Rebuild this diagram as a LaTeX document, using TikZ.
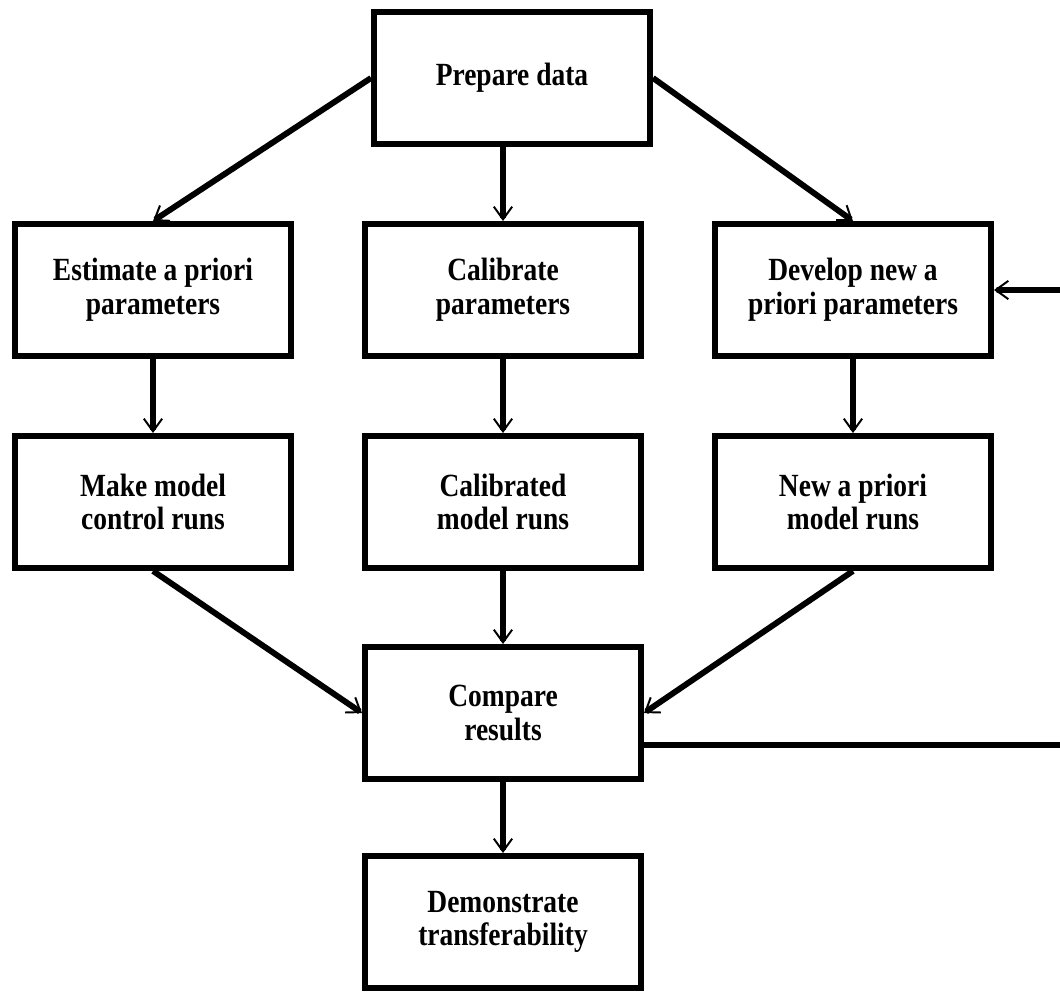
\documentclass[tikz,border=0pt]{standalone}
\usepackage{fontspec}
\setmainfont{Liberation Serif}[FakeStretch=0.85]
\usetikzlibrary{positioning,arrows.meta}
\tikzset{>={Straight Barb[length=9pt,width=13pt,line width=1.4pt]}}
\tikzset{box/.style={rectangle,draw=black,line width=4.2pt,minimum width=6.9cm,minimum height=3.3cm,align=center,font=\fontsize{23}{24}\selectfont\bfseries}}

\begin{document}
\begin{tikzpicture}[x=0.025cm,y=-0.025cm,line width=4.2pt]
\useasboundingbox (0,0) rectangle (1060,993);

\node[box] (1) at(512,78){Prepare data};
\node[box] (2) at(153,290){Estimate a priori\\parameters};
\node[box] (3) at(503,290){Calibrate\\parameters};
\node[box] (4) at(853,290){Develop new a\\priori parameters};
\node[box] (5) at(153,502){Make model\\control runs};
\node[box] (6) at(503,502){Calibrated\\model runs};
\node[box] (7) at(853,502){New a priori\\model runs};
\node[box] (8) at(503,713){Compare\\results};
\node[box] (9) at(503,922){Demonstrate\\transferability};
\coordinate (fb) at(1110,745);

\draw[->] (1.west) --(2.north);
\draw[->] (1.south -| 3) --(3);
\draw[->] (1.east) --(4.north);
\draw[->] (2) --(5);
\draw[->] (3) --(6);
\draw[->] (4) --(7);
\draw[->] (5.south) --(8.west);
\draw[->] (6) --(8);
\draw[->] (7.south) --(8.east);
\draw[->] (8) --(9);
\draw[->] ([yshift=-0.8cm]8.east) --(fb) |-(4);

\end{tikzpicture}
\end{document}
